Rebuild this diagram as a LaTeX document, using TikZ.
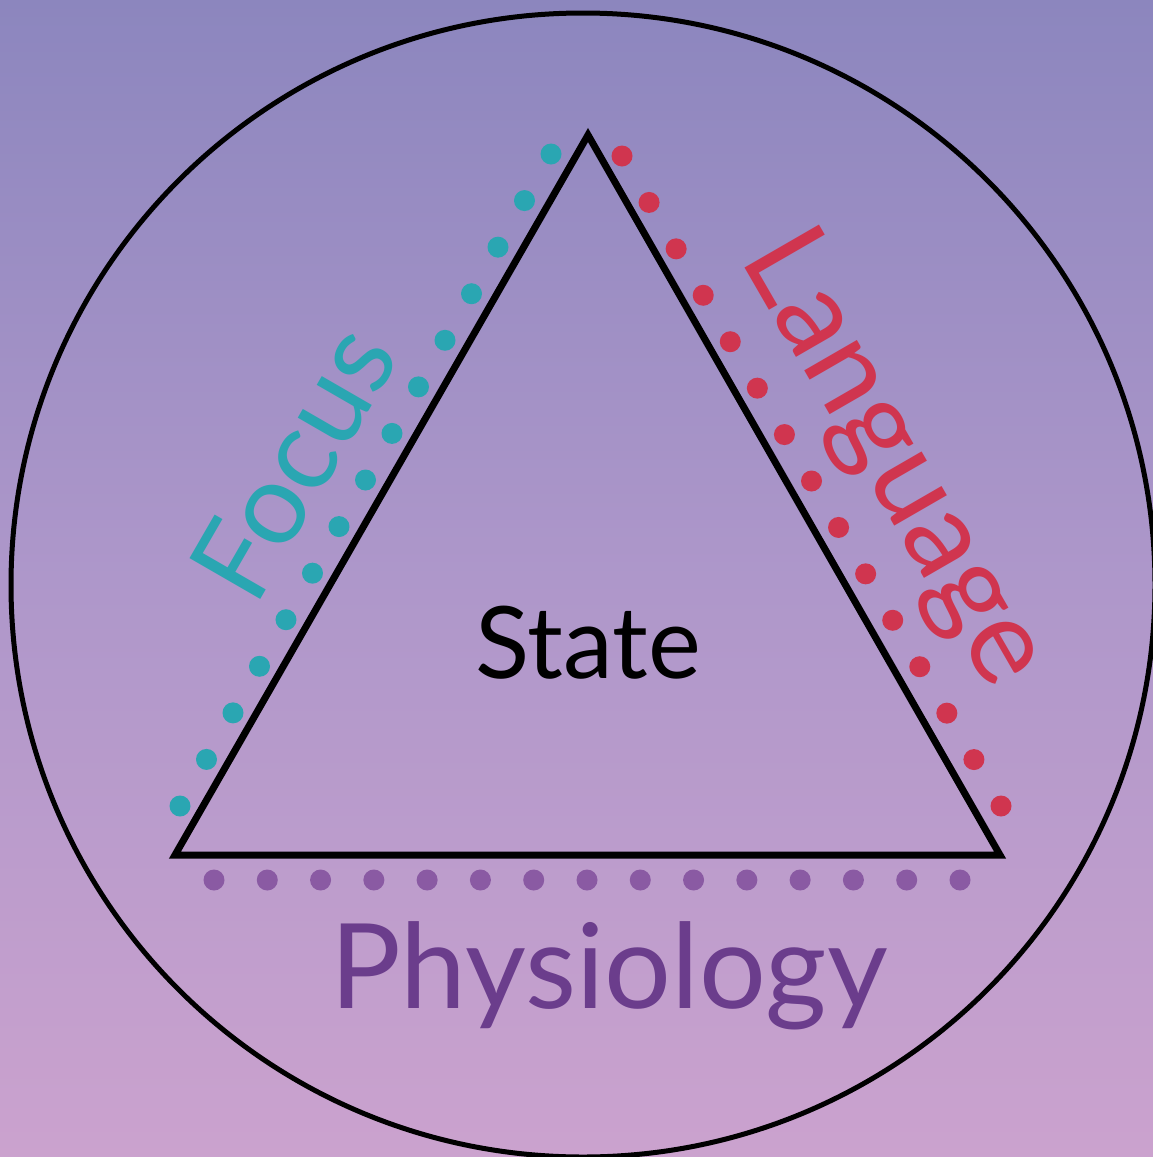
\documentclass[tikz,border=0pt]{standalone}
\usepackage{fontspec}
\usetikzlibrary{calc}
\setmainfont{Lato}
\definecolor{bgtop}{HTML}{8C86BE}
\definecolor{bgmid}{HTML}{AE97CA}
\definecolor{bgbot}{HTML}{CBA2CE}
\definecolor{focuscol}{HTML}{2AA6B2}
\definecolor{langcol}{HTML}{D0354F}
\definecolor{physcol}{HTML}{6B3D8C}
\definecolor{physdot}{HTML}{8A5AA3}
\tikzset{
  ringline/.style={draw=black, line width=5pt},
  triline/.style={draw=black, line width=7pt, line join=miter},
  dotf/.style={fill=focuscol},
  dotl/.style={fill=langcol},
  dotp/.style={fill=physdot},
  lbl/.style={inner sep=0pt, anchor=center}
}
\begin{document}
\begin{tikzpicture}[x=1pt,y=-1pt]
\useasboundingbox (0,0) rectangle (1153,1157);
% background
\shade[top color=bgtop, bottom color=bgbot, middle color=bgmid] (0,0) rectangle (1153,1157);
% ring
\node[circle, ringline, minimum size=1144pt, inner sep=0pt] (ring) at (583,585) {};
% triangle
\coordinate (A) at (588,135);
\coordinate (B) at (175,855);
\coordinate (C) at (1000,855);
\draw[triline] (A) -- (B) -- (C) -- cycle;
% dots
\foreach \i in {0,...,14}{
  \fill[dotf] ($(180,806)!\i/14!(551,154)$) circle (10.5);
  \fill[dotl] ($(622,156)!\i/14!(1001,806)$) circle (10.5);
  \fill[dotp] ($(214,880)!\i/14!(960,880)$) circle (10.5);
}
% labels
\node[lbl, font=\fontsize{100}{100}\selectfont] (state) at (588,643) {State};
\node[lbl, text=physcol, font=\fontsize{118}{118}\selectfont] (phys) at (609,976) {Physiology};
\node[lbl, text=focuscol, rotate=60, font=\fontsize{114}{114}\selectfont] (focus) at (293,462) {Focus};
\node[lbl, text=langcol, rotate=-60, font=\fontsize{120}{120}\selectfont] (lang) at (893,460) {Language};
\end{tikzpicture}
\end{document}
